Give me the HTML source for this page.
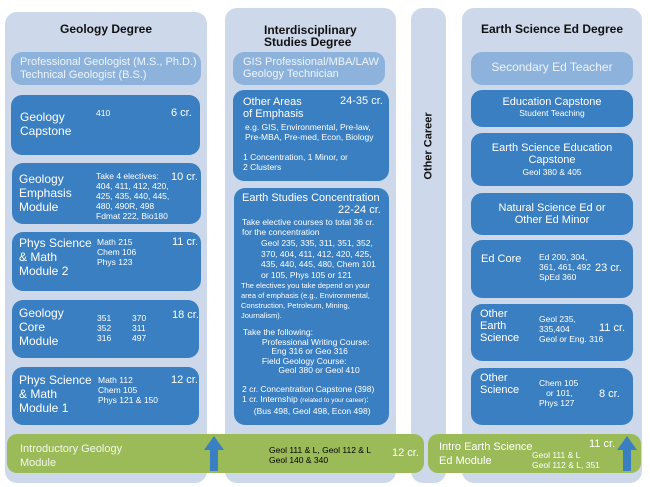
<!DOCTYPE html>
<html><head><style>
body{margin:0;width:650px;height:487px;background:#fff;position:relative;overflow:hidden;font-family:"Liberation Sans",sans-serif;}
div{position:absolute;box-sizing:border-box;white-space:nowrap;}
.p{background:#cdd9ea;border-radius:12px;}
.l{background:#8db3dc;border-radius:11px;color:#eef4fb;font-size:12px;}
.b{background:#3a7fc1;border-radius:11px;color:#fff;}
.g{background:#9bbb59;border-radius:10px;color:#fff;}
.t{font-weight:bold;font-size:12px;color:#111;text-align:center;}
.n{font-size:12px;line-height:14px;}
.s{font-size:8.5px;line-height:10px;}
.c{font-size:11px;}
</style></head><body>
<!-- panels -->
<div class="p" style="left:5px;top:12px;width:202px;height:471px"></div>
<div class="p" style="left:225px;top:8px;width:171px;height:475px"></div>
<div class="p" style="left:411px;top:8px;width:35px;height:475px"></div>
<div class="p" style="left:462px;top:8px;width:180px;height:475px"></div>

<div class="t" style="left:5px;top:22px;width:202px">Geology Degree</div>
<div class="t" style="left:264px;top:24px;text-align:left;line-height:12px">Interdisciplinary<br>Studies Degree</div>
<div class="t" style="left:462px;top:22px;width:180px">Earth Science Ed Degree</div>
<div class="t" style="left:371px;top:140px;width:115px;transform:rotate(-90deg);font-size:11px">Other Career</div>

<!-- left column -->
<div class="l" style="left:11px;top:52px;width:190px;height:33px;padding:4px 0 0 9px;line-height:13px;font-size:11px">Professional Geologist (M.S., Ph.D.)<br>Technical Geologist (B.S.)</div>
<div class="b" style="left:11px;top:95px;width:189px;height:60px"><div class="n" style="left:9px;top:15px">Geology<br>Capstone</div><div class="s" style="left:85px;top:13px">410</div><div class="c" style="left:160px;top:12px">6 cr.</div></div>
<div class="b" style="left:12px;top:163px;width:189px;height:61px"><div class="n" style="left:7px;top:9px">Geology<br>Emphasis<br>Module</div><div class="s" style="left:84px;top:8px">Take 4 electives:<br>404, 411, 412, 420,<br>425, 435, 440, 445,<br>480, 490R, 498<br>Fdmat 222, Bio180</div><div class="c" style="left:159px;top:8px">10 cr.</div></div>
<div class="b" style="left:12px;top:232px;width:189px;height:59px"><div class="n" style="left:7px;top:4px">Phys Science<br>&amp; Math<br>Module 2</div><div class="s" style="left:85px;top:5px">Math 215<br>Chem 106<br>Phys 123</div><div class="c" style="left:160px;top:4px">11 cr.</div></div>
<div class="b" style="left:12px;top:300px;width:187px;height:58px"><div class="n" style="left:7px;top:6px">Geology<br>Core<br>Module</div><div class="s" style="left:85px;top:13px">351<br>352<br>316</div><div class="s" style="left:120px;top:13px">370<br>311<br>497</div><div class="c" style="left:160px;top:9px">18 cr.</div></div>
<div class="b" style="left:12px;top:367px;width:187px;height:58px"><div class="n" style="left:7px;top:6px">Phys Science<br>&amp; Math<br>Module 1</div><div class="s" style="left:86px;top:8px">Math 112<br>Chem 105<br>Phys 121 &amp; 150</div><div class="c" style="left:159px;top:7px">12 cr.</div></div>

<!-- green bars -->
<div class="g" style="left:7px;top:434px;width:417px;height:39px"></div>
<div class="n" style="left:20px;top:442px;color:#f3f7ea;font-size:11px">Introductory Geology<br>Module</div>
<div class="s" style="left:269px;top:445px">Geol 111 &amp; L, Geol 112 &amp; L<br>Geol 140 &amp; 340</div>
<div class="c" style="left:392px;top:447px;color:#fff">12 cr.</div>
<div class="g" style="left:428px;top:434px;width:213px;height:39px"></div>
<div class="n" style="left:439px;top:440px;color:#fff;font-size:11px">Intro Earth Science<br>Ed Module</div>
<div class="s" style="left:532px;top:450px;color:#fff">Geol 111 &amp; L<br>Geol 112 &amp; L, 351</div>
<div class="c" style="left:589px;top:438px;color:#fff">11 cr.</div>
<svg style="position:absolute;left:203px;top:434px" width="22" height="38"><polygon points="11,2 21,16 15,16 15,37 7,37 7,16 1,16" fill="#3a7fc1"/></svg>
<svg style="position:absolute;left:616px;top:434px" width="22" height="38"><polygon points="11,2 21,16 15,16 15,37 7,37 7,16 1,16" fill="#3a7fc1"/></svg>

<!-- middle -->
<div class="l" style="left:233px;top:52px;width:152px;height:33px;padding:4px 0 0 10px;line-height:12px;font-size:11px">GIS Professional/MBA/LAW<br>Geology Technician</div>
<div class="b" style="left:233px;top:90px;width:156px;height:91px"><div class="n" style="left:10px;top:6px;font-size:11px;line-height:12px">Other Areas<br>of Emphasis</div><div class="c" style="left:107px;top:5px">24-35 cr.</div><div class="s" style="left:12px;top:32px;font-size:8.5px">e.g. GIS, Environmental, Pre-law,<br>Pre-MBA, Pre-med, Econ, Biology</div><div class="s" style="left:10px;top:62px">1 Concentration, 1 Minor, or<br>2 Clusters</div></div>
<div class="b" style="left:234px;top:188px;width:155px;height:237px"><div class="c" style="left:8px;top:4px">Earth Studies Concentration</div><div class="c" style="left:104px;top:16px">22-24 cr.</div>
<div class="s" style="left:8px;top:29px;line-height:10px">Take elective courses to total 36 cr.<br>for the concentration</div>
<div class="s" style="left:27px;top:50px;line-height:10.5px">Geol 235, 335, 311, 351, 352,<br>370, 404, 411, 412, 420, 425,<br>435, 440, 445, 480, Chem 101<br>or 105, Phys 105 or 121</div>
<div style="left:7px;top:93px;font-size:7.5px;line-height:10px;color:#fff">The electives you take depend on your<br>area of emphasis (e.g., Environmental,<br>Construction, Petroleum, Mining,<br>Journalism).</div>
<div class="s" style="left:9px;top:140px;line-height:9.6px">Take the following:<br>&nbsp;&nbsp;&nbsp;&nbsp;&nbsp;&nbsp;&nbsp;&nbsp;Professional Writing Course:<br>&nbsp;&nbsp;&nbsp;&nbsp;&nbsp;&nbsp;&nbsp;&nbsp;&nbsp;&nbsp;&nbsp;&nbsp;Eng 316 or Geo 316<br>&nbsp;&nbsp;&nbsp;&nbsp;&nbsp;&nbsp;&nbsp;&nbsp;Field Geology Course:<br>&nbsp;&nbsp;&nbsp;&nbsp;&nbsp;&nbsp;&nbsp;&nbsp;&nbsp;&nbsp;&nbsp;&nbsp;&nbsp;&nbsp;&nbsp;Geol 380 or Geol 410</div>
<div class="s" style="left:8px;top:196px">2 cr. Concentration Capstone (398)<br>1 cr. Internship <span style="font-size:6.5px">(related to your career)</span>:<br>&nbsp;&nbsp;&nbsp;&nbsp;&nbsp;(Bus 498, Geol 498, Econ 498)</div></div>

<!-- right -->
<div class="l" style="left:471px;top:52px;width:162px;height:33px;text-align:center;padding-top:8px">Secondary Ed Teacher</div>
<div class="b" style="left:471px;top:90px;width:162px;height:37px;text-align:center"><div style="position:static;font-size:11px;padding-top:6px">Education Capstone</div><div style="position:static;font-size:8.5px">Student Teaching</div></div>
<div class="b" style="left:471px;top:133px;width:162px;height:53px;text-align:center;font-size:11px;line-height:12px;padding-top:9px">Earth Science Education<br>Capstone<br><span style="font-size:8.5px">Geol 380 &amp; 405</span></div>
<div class="b" style="left:471px;top:193px;width:162px;height:42px;text-align:center;font-size:11px;line-height:12px;padding-top:9px">Natural Science Ed or<br>Other Ed Minor</div>
<div class="b" style="left:471px;top:240px;width:162px;height:58px"><div class="n" style="left:10px;top:12px;font-size:11px">Ed Core</div><div class="s" style="left:68px;top:12px">Ed 200, 304,<br>361, 461, 492<br>SpEd 360</div><div class="c" style="left:124px;top:22px">23 cr.</div></div>
<div class="b" style="left:471px;top:304px;width:162px;height:57px"><div class="n" style="left:9px;top:4px;font-size:11px;line-height:12px">Other<br>Earth<br>Science</div><div class="s" style="left:68px;top:10px">Geol 235,<br>335,404<br>Geol or Eng. 316</div><div class="c" style="left:128px;top:18px">11 cr.</div></div>
<div class="b" style="left:471px;top:368px;width:162px;height:57px"><div class="n" style="left:9px;top:4px;font-size:11px;line-height:12px">Other<br>Science</div><div class="s" style="left:68px;top:10px">Chem 105<br>&nbsp;&nbsp;&nbsp;or 101,<br>Phys 127</div><div class="c" style="left:128px;top:20px">8 cr.</div></div>
</body></html>
